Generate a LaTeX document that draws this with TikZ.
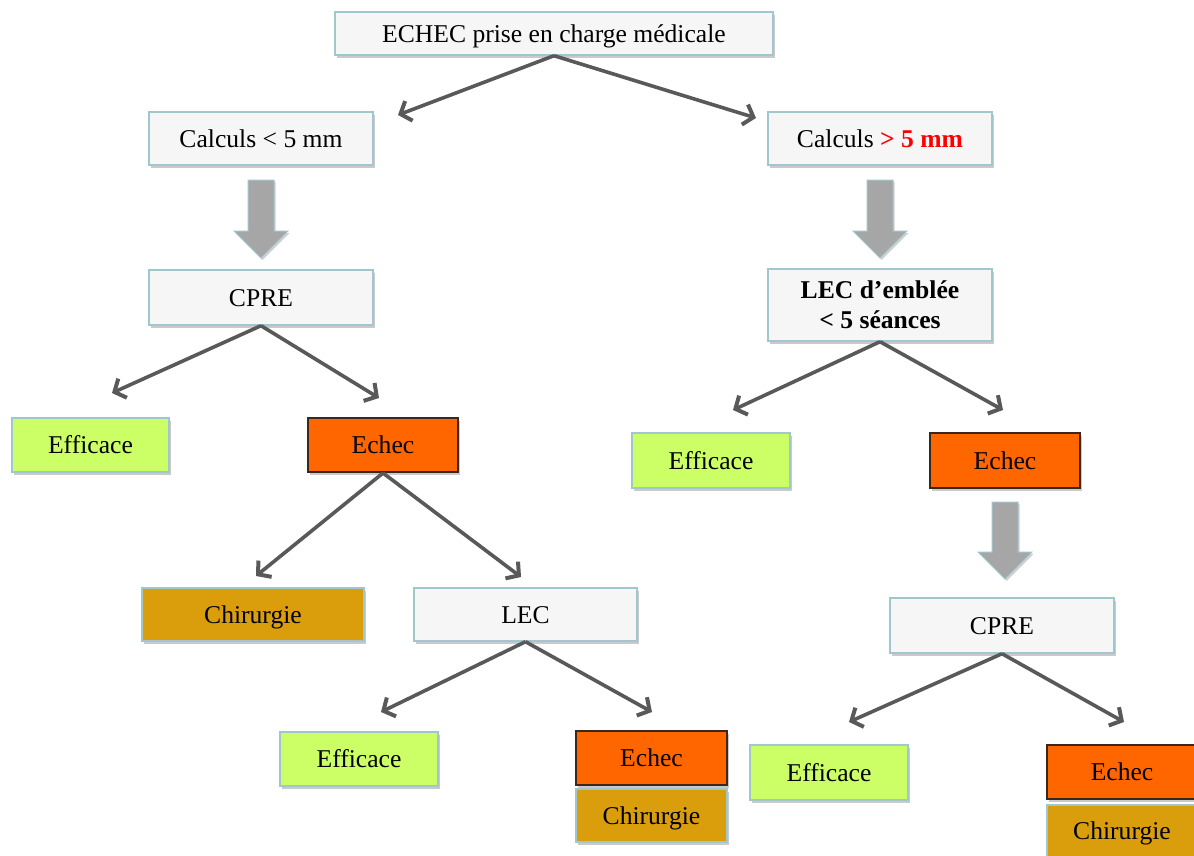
\documentclass[tikz,border=0pt]{standalone}
\usepackage{fontspec}
\setmainfont{Liberation Serif}
\usetikzlibrary{arrows.meta,shadows}
\definecolor{boxfill}{RGB}{246,246,246}
\definecolor{boxline}{RGB}{160,198,206}
\definecolor{okfill}{RGB}{204,255,102}
\definecolor{failfill}{RGB}{255,102,0}
\definecolor{failline}{RGB}{58,40,28}
\definecolor{surgfill}{RGB}{218,158,12}
\definecolor{arrgray}{RGB}{89,89,89}
\definecolor{bigarr}{RGB}{166,166,166}
\tikzset{
  x=1pt, y=-1pt,
  base/.style={rectangle, inner sep=0pt, line width=1.4pt,
    font=\fontsize{25.6}{29}\selectfont, align=center,
    drop shadow={shadow xshift=2pt, shadow yshift=-3pt, opacity=0.35, fill=black!60}},
  oneline/.style={text height=17pt, text depth=0pt},
  plain/.style={base, draw=boxline, fill=boxfill},
  ok/.style={base, oneline, draw=boxline, fill=okfill},
  fail/.style={base, oneline, draw=failline, line width=2pt, fill=failfill},
  surg/.style={base, oneline, draw=boxline, fill=surgfill},
  link/.style={draw=arrgray, line width=3.6pt,
    -{Straight Barb[length=9pt,width=21pt,line width=4pt]}},
  fatarrow/.style={fill=bigarr, draw=boxline, line width=1pt,
    drop shadow={shadow xshift=1.5pt, shadow yshift=-2pt, opacity=0.3, fill=black!60}}
}
\newcommand{\fatdown}[3]{% x center, top y, tip y
  \path[fatarrow] (#1-13,#2) -- (#1+13,#2) -- (#1+13,#3-27) -- (#1+27,#3-27)
    -- (#1,#3) -- (#1-27,#3-27) -- (#1-13,#3-27) -- cycle;}
\begin{document}
\begin{tikzpicture}
\useasboundingbox (0,0) rectangle (1194,855);
\clip (0,0) rectangle (1194,855);
% nodes
\node[plain, oneline, minimum width=438, minimum height=43] (top) at (554,33.5) {ECHEC prise en charge médicale};
\node[plain, oneline, minimum width=224, minimum height=53] (calcL) at (261,138.5) {Calculs < 5 mm};
\node[plain, oneline, minimum width=224, minimum height=53] (calcR) at (880,138.5) {Calculs \textcolor{red}{\textbf{> 5 mm}}};
\node[plain, oneline, minimum width=224, minimum height=55] (cpreL) at (261,297.5) {CPRE};
\node[plain, minimum width=224, minimum height=72] (lecE) at (880,305) {\textbf{LEC d’emblée}\\[1pt]\textbf{< 5 séances}};
\node[ok, minimum width=157, minimum height=54] (effL) at (90.5,445) {Efficace};
\node[fail, minimum width=150, minimum height=54] (echL) at (383,445) {Echec};
\node[ok, minimum width=158, minimum height=55] (effM) at (711,460.5) {Efficace};
\node[fail, minimum width=150, minimum height=55] (echR) at (1005,460.5) {Echec};
\node[plain, oneline, minimum width=224, minimum height=55] (cpreR) at (1002,625.5) {CPRE};
\node[surg, minimum width=222, minimum height=53] (chirL) at (253,614.5) {Chirurgie};
\node[plain, oneline, minimum width=223, minimum height=53] (lec) at (525.5,614.5) {LEC};
\node[ok, minimum width=158, minimum height=54] (effB) at (359,759) {Efficace};
\node[surg, minimum width=151, minimum height=53] (chirB) at (651.5,815.5) {Chirurgie};
\node[fail, minimum width=151, minimum height=54] (echB) at (651.5,758) {Echec};
\node[ok, minimum width=158, minimum height=55] (effB2) at (829,772.5) {Efficace};
\node[surg, minimum width=150, minimum height=52] (chirB2) at (1122,831) {Chirurgie};
\node[fail, minimum width=150, minimum height=54] (echB2) at (1122,772) {Echec};
% block arrows
\fatdown{261}{180}{258}
\fatdown{880}{180}{258}
\fatdown{1005}{502}{579}
% arrow end points
\coordinate (t1) at (398,115);
\coordinate (t2) at (756,118);
\coordinate (t3) at (112,393);
\coordinate (t4) at (379,398);
\coordinate (t5) at (733,410);
\coordinate (t6) at (1003,410);
\coordinate (t7) at (256,576);
\coordinate (t8) at (521,577);
\coordinate (t9) at (381,712);
\coordinate (t10) at (652,712);
\coordinate (t11) at (849,722);
\coordinate (t12) at (1124,722);
% connectors
\draw[link] (top.south) -- (t1);
\draw[link] (top.south) -- (t2);
\draw[link] (cpreL.south) -- (t3);
\draw[link] (cpreL.south) -- (t4);
\draw[link] (lecE.south) -- (t5);
\draw[link] (lecE.south) -- (t6);
\draw[link] (echL.south) -- (t7);
\draw[link] (echL.south) -- (t8);
\draw[link] (lec.south) -- (t9);
\draw[link] (lec.south) -- (t10);
\draw[link] (cpreR.south) -- (t11);
\draw[link] (cpreR.south) -- (t12);
\end{tikzpicture}
\end{document}
